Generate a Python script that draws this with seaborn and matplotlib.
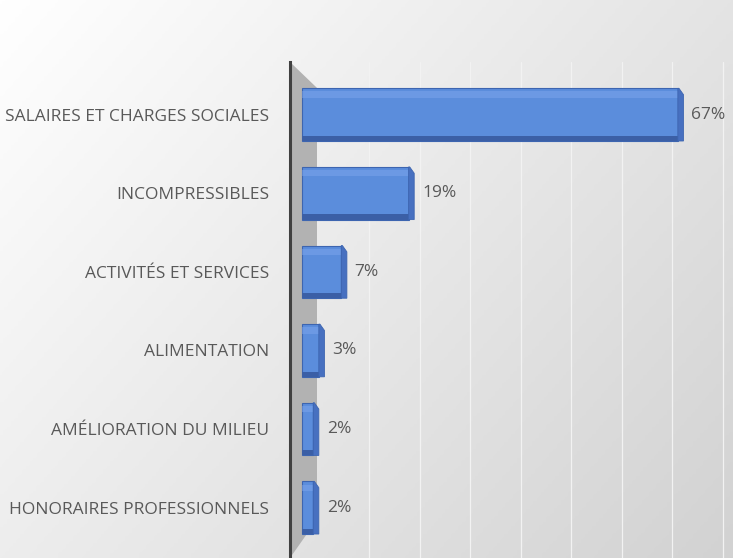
import matplotlib
matplotlib.use("Agg")
import matplotlib.pyplot as plt
import seaborn as sns
import numpy as np
import pandas as pd
from matplotlib.patches import Rectangle, Polygon

# data
categories = ["SALAIRES ET CHARGES SOCIALES", "INCOMPRESSIBLES", "ACTIVITÉS ET SERVICES",
              "ALIMENTATION", "AMÉLIORATION DU MILIEU", "HONORAIRES PROFESSIONNELS"]
values = [67, 19, 7, 3, 2, 2]
value_labels = ["67%", "19%", "7%", "3%", "2%", "2%"]

df = pd.DataFrame({"categorie": categories, "valeur": values})

sns.set_theme(style="white")
plt.rcParams['font.family'] = ['Open Sans', 'DejaVu Sans']

fig = plt.figure(figsize=(7.33, 5.58), dpi=100)

# gradient background over the whole figure
bg = fig.add_axes([0, 0, 1, 1], zorder=-10)
yy, xx = np.mgrid[0:1:200j, 0:1:200j]
grad = 0.6 * xx + 0.4 * yy
bg.imshow(grad, cmap=matplotlib.colors.LinearSegmentedColormap.from_list("g", ["#ffffff", "#d2d2d2"]),
          extent=[0, 1, 0, 1], aspect="auto", origin="upper")
bg.axis("off")

ax = fig.add_axes([290 / 733, 0, 443 / 733, 496 / 558])
ax.patch.set_alpha(0)

sns.barplot(data=df, y="categorie", x="valeur", orient="h", color="#5b8ddc", saturation=1,
            width=0.67, edgecolor="#3d65b0", linewidth=0.8, ax=ax, zorder=3)

px = 5.61  # pixels per percent
ax.set_xlim(-12 / px, 431 / px)
ax.set_ylim(5.64, -0.67)

# side wall
ax.add_patch(Polygon([(-12 / px, -0.67), (15 / px, -0.34), (15 / px, 5.15), (-12 / px, 5.64)],
                     closed=True, facecolor="#b2b2b2", edgecolor="none", zorder=1))

# faint vertical gridlines
for g in range(12, 80, 9):
    ax.axvline(g, color="#f2f2f2", lw=0.9, zorder=0)

# 3D-ish details on bars
for p, lab in zip(ax.patches, value_labels):
    if not isinstance(p, Rectangle) or p.get_width() <= 0 or p.get_zorder() != 3:
        continue
    x0, y0 = p.get_x(), p.get_y()
    w, h = p.get_width(), p.get_height()
    # dark bottom strip
    ax.add_patch(Rectangle((x0, y0 + h * 0.9), w, h * 0.1, facecolor="#3b5fa6",
                           edgecolor="none", zorder=4))
    # light inner highlight
    ax.add_patch(Rectangle((x0, y0 + h * 0.06), w, h * 0.12, facecolor="#7ea6ec",
                           edgecolor="none", zorder=4, alpha=0.5))
    # right facet
    d = 1.0
    ax.add_patch(Polygon([(x0 + w, y0), (x0 + w + d * 0.2, y0), (x0 + w + d, y0 + h * 0.12),
                          (x0 + w + d, y0 + h), (x0 + w, y0 + h)], closed=True,
                         facecolor="#4770c0", edgecolor="#3d65b0", lw=0.6, zorder=4))
    ax.text(x0 + w + d + 1.4, y0 + h / 2, lab, va="center", ha="left",
            fontsize=12.5, color="#595959", zorder=5)

ax.set_xlabel("")
ax.set_ylabel("")
ax.set_xticks([])
ax.tick_params(axis="y", length=0, pad=15, labelsize=12.5, labelcolor="#595959")
for s in ["top", "right", "bottom"]:
    ax.spines[s].set_visible(False)
ax.spines["left"].set_color("#404040")
ax.spines["left"].set_linewidth(2.2)
ax.spines["left"].set_zorder(6)

fig.savefig("out.png", dpi=100)
